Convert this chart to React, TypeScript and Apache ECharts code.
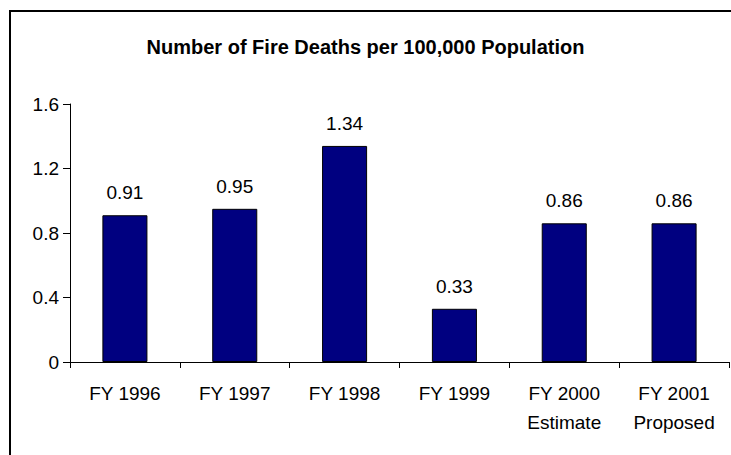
import React, { useEffect, useRef } from "react";
import * as echarts from "echarts";

const categories = [
  "FY 1996",
  "FY 1997",
  "FY 1998",
  "FY 1999",
  "FY 2000\nEstimate",
  "FY 2001\nProposed",
];
const deathsPer100k = [0.91, 0.95, 1.34, 0.33, 0.86, 0.86];
const yTicks = { min: 0, max: 1.6, interval: 0.4 };
const titleText = "Number of Fire Deaths per 100,000 Population";

const FONT = "'Liberation Sans', Arial, sans-serif";

export default function App() {
  const ref = useRef<HTMLDivElement>(null);

  useEffect(() => {
    if (!ref.current) return;
    const chart = echarts.init(ref.current, null, { renderer: "svg" });
    chart.setOption({
      animation: false,
      backgroundColor: "#ffffff",
      title: {
        text: titleText,
        left: "center",
        top: 32,
        textStyle: {
          fontFamily: FONT,
          fontSize: 20,
          fontWeight: "bold",
          color: "#000",
        },
      },
      graphic: [
        {
          type: "rect",
          shape: { x: 10, y: 11, width: 760, height: 480 },
          style: { fill: "none", stroke: "#000", lineWidth: 2 },
          silent: true,
        },
      ],
      grid: { left: 70, right: 2, top: 104, bottom: 93 },
      xAxis: {
        type: "category",
        data: categories,
        axisLine: { lineStyle: { color: "#000", width: 1 } },
        axisTick: { show: true, length: 6, inside: false, lineStyle: { color: "#000" } },
        axisLabel: {
          fontFamily: FONT,
          fontSize: 19,
          color: "#000",
          margin: 17,
          lineHeight: 29,
        },
        splitLine: { show: false },
      },
      yAxis: {
        type: "value",
        min: yTicks.min,
        max: yTicks.max,
        interval: yTicks.interval,
        axisLine: { show: true, lineStyle: { color: "#000", width: 1 } },
        axisTick: { show: true, length: 7, lineStyle: { color: "#000" } },
        axisLabel: {
          fontFamily: FONT,
          fontSize: 19,
          color: "#000",
          margin: 11,
          formatter: (v: number) => (v === 0 ? "0" : v.toFixed(1)),
        },
        splitLine: { show: false },
      },
      series: [
        {
          type: "bar",
          data: deathsPer100k,
          barWidth: "41%",
          itemStyle: { color: "#000080", borderColor: "#000", borderWidth: 1 },
          label: {
            show: true,
            position: "top",
            distance: 13,
            fontFamily: FONT,
            fontSize: 19,
            color: "#000",
            formatter: (p: any) => p.value.toFixed(2),
          },
        },
      ],
    });
    return () => chart.dispose();
  }, []);

  return (
    <div
      ref={ref}
      style={{ position: "absolute", left: 0, top: 0, width: 731, height: 455 }}
    />
  );
}
